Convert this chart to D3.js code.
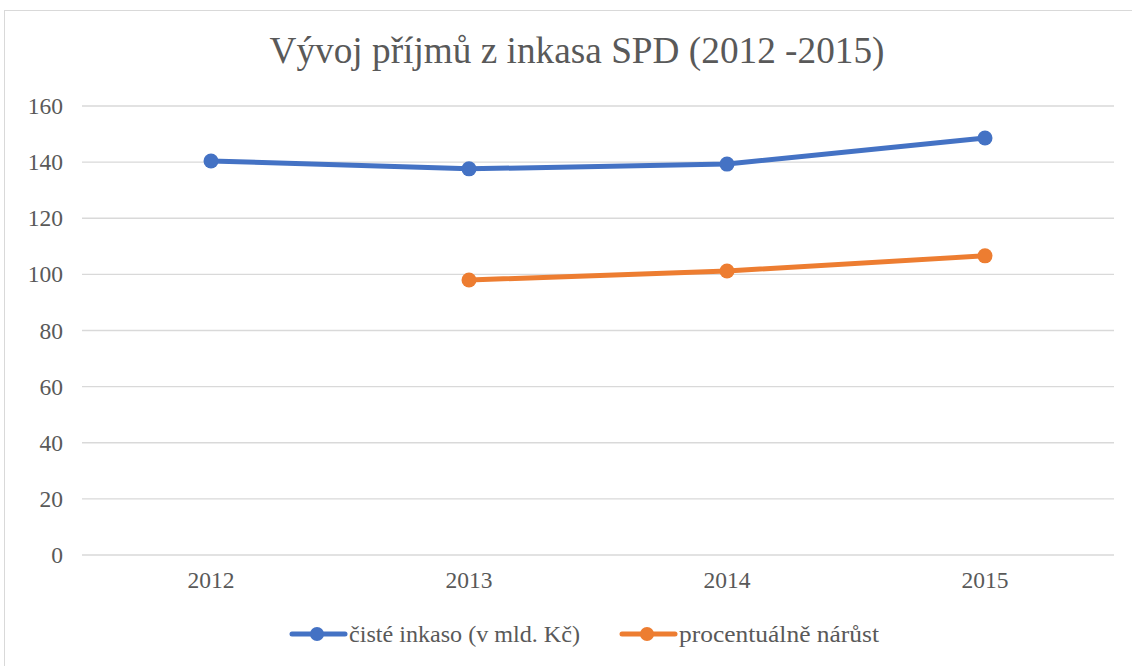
<!DOCTYPE html>
<html>
<head>
<meta charset="utf-8">
<script src="https://cdn.jsdelivr.net/npm/d3@7"></script>
<style>
  body { margin: 0; background: #fff; }
</style>
</head>
<body>
<svg id="chart" width="1132" height="666"></svg>
<script>
const years = ["2012", "2013", "2014", "2015"];
const cisteInkaso = [140.4, 137.6, 139.3, 148.6];
const procentualneNarust = [null, 98.0, 101.2, 106.6];
const yTicks = [0, 20, 40, 60, 80, 100, 120, 140, 160];
const seriesNames = ["čisté inkaso (v mld. Kč)", "procentuálně nárůst"];
const seriesColors = ["#4472c4", "#ed7d31"];

const serif = "Liberation Serif";
const svg = d3.select("#chart");

// outer chart border
svg.append("rect")
  .attr("x", 4.5).attr("y", 10.5)
  .attr("width", 1140).attr("height", 670)
  .attr("fill", "none").attr("stroke", "#d9d9d9");

svg.append("text")
  .attr("x", 577).attr("y", 63)
  .attr("text-anchor", "middle")
  .attr("textLength", 615).attr("lengthAdjust", "spacingAndGlyphs")
  .style("font-family", serif).attr("font-size", 38)
  .attr("fill", "#595959")
  .text("Vývoj příjmů z inkasa SPD (2012 -2015)");

const x = d3.scaleBand().domain(years).range([82, 1114]);
const y = d3.scaleLinear().domain([0, 160]).range([555, 106]);

// gridlines
svg.append("g")
  .selectAll("line")
  .data(yTicks)
  .join("line")
  .attr("x1", 82).attr("x2", 1114)
  .attr("y1", d => y(d)).attr("y2", d => y(d))
  .attr("stroke", "#d9d9d9").attr("stroke-width", 1.3);

// y axis labels
const yAxis = svg.append("g")
  .attr("transform", "translate(63,0)")
  .call(d3.axisLeft(y).tickValues(yTicks).tickSize(0).tickPadding(0));
yAxis.select(".domain").remove();
yAxis.attr("font-family", serif).attr("font-size", 23.5);
yAxis.selectAll("text")
  .style("font-family", serif)
  .attr("fill", "#595959");

// x axis labels
const xAxis = svg.append("g")
  .attr("transform", "translate(0,571)")
  .call(d3.axisBottom(x).tickSize(0).tickPadding(0));
xAxis.select(".domain").remove();
xAxis.attr("font-family", serif).attr("font-size", 23.5);
xAxis.selectAll("text")
  .style("font-family", serif)
  .attr("fill", "#595959");

const line = d3.line()
  .defined(d => d.v != null)
  .x(d => x(d.year) + x.bandwidth() / 2)
  .y(d => y(d.v));

[cisteInkaso, procentualneNarust].forEach((vals, i) => {
  const pts = years.map((yr, j) => ({ year: yr, v: vals[j] }));
  svg.append("path")
    .datum(pts)
    .attr("d", line)
    .attr("fill", "none")
    .attr("stroke", seriesColors[i])
    .attr("stroke-width", 5)
    .attr("stroke-linejoin", "round")
    .attr("stroke-linecap", "round");
  svg.append("g")
    .selectAll("circle")
    .data(pts.filter(d => d.v != null))
    .join("circle")
    .attr("cx", d => x(d.year) + x.bandwidth() / 2)
    .attr("cy", d => y(d.v))
    .attr("r", 7.5)
    .attr("fill", seriesColors[i]);
});

// legend
const legendX = [290, 620];
const legendTextW = [231, 200];
const legend = svg.append("g");
seriesNames.forEach((name, i) => {
  const g = legend.append("g").attr("transform", `translate(${legendX[i]},634)`);
  g.append("line")
    .attr("x1", 2).attr("x2", 55)
    .attr("stroke", seriesColors[i]).attr("stroke-width", 5)
    .attr("stroke-linecap", "round");
  g.append("circle").attr("cx", 27).attr("r", 7).attr("fill", seriesColors[i]);
  g.append("text")
    .attr("x", 59).attr("y", 8)
    .attr("textLength", legendTextW[i]).attr("lengthAdjust", "spacingAndGlyphs")
    .style("font-family", serif).attr("font-size", 24)
    .attr("fill", "#595959")
    .text(name);
});
</script>
</body>
</html>
